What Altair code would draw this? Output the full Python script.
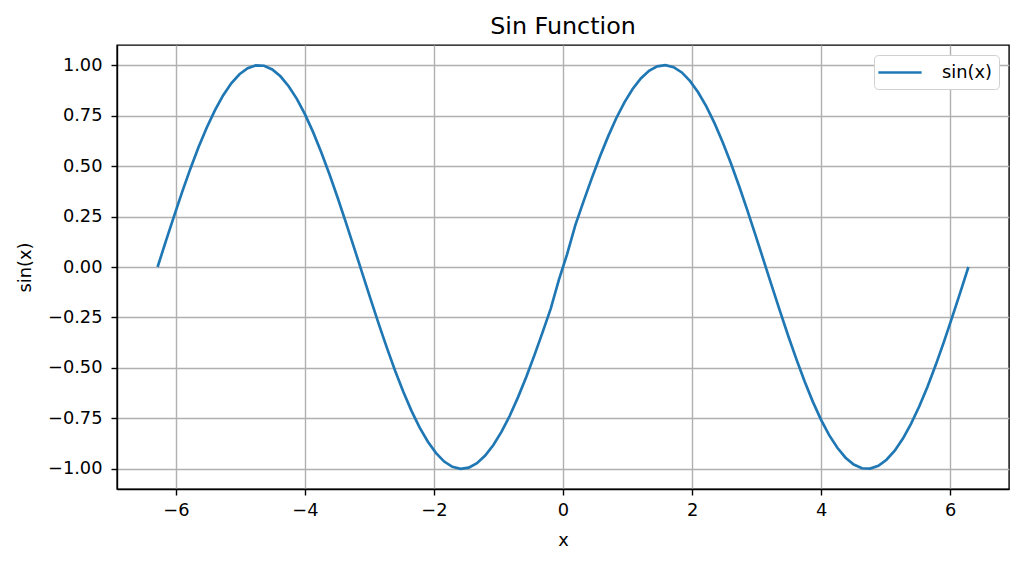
import altair as alt
import pandas as pd

x_neg = [-6.283, -6.156, -6.029, -5.902, -5.776, -5.649, -5.522, -5.395, -5.268, -5.141,
         -5.014, -4.887, -4.760, -4.633, -4.506, -4.379, -4.252, -4.125, -3.998, -3.871,
         -3.745, -3.618, -3.491, -3.364, -3.237, -3.110, -2.983, -2.856, -2.729, -2.602,
         -2.475, -2.348, -2.221, -2.094, -1.967, -1.841, -1.714, -1.587, -1.460, -1.333,
         -1.206, -1.079, -0.952, -0.825, -0.698, -0.571, -0.444, -0.317, -0.190, -0.063]
x_pos = [0.063, 0.190, 0.317, 0.444, 0.571, 0.698, 0.825, 0.952, 1.079, 1.206,
         1.333, 1.460, 1.587, 1.714, 1.841, 1.967, 2.094, 2.221, 2.348, 2.475,
         2.602, 2.729, 2.856, 2.983, 3.110, 3.237, 3.364, 3.491, 3.618, 3.745,
         3.871, 3.998, 4.125, 4.252, 4.379, 4.506, 4.633, 4.760, 4.887, 5.014,
         5.141, 5.268, 5.395, 5.522, 5.649, 5.776, 5.902, 6.029, 6.156, 6.283]
y_neg = [0.000, 0.127, 0.251, 0.372, 0.486, 0.593, 0.690, 0.776, 0.850, 0.910,
         0.955, 0.985, 0.999, 0.997, 0.979, 0.945, 0.896, 0.833, 0.756, 0.667,
         0.567, 0.458, 0.342, 0.220, 0.095, -0.032, -0.158, -0.282, -0.401, -0.514,
         -0.618, -0.713, -0.796, -0.866, -0.922, -0.964, -0.990, -1.000, -0.994, -0.972,
         -0.934, -0.882, -0.816, -0.737, -0.646, -0.546, -0.438, -0.324, -0.206, -0.063]
y_pos = [0.063, 0.206, 0.324, 0.438, 0.546, 0.646, 0.737, 0.816, 0.882, 0.934,
         0.972, 0.994, 1.000, 0.990, 0.964, 0.922, 0.866, 0.796, 0.713, 0.618,
         0.514, 0.401, 0.282, 0.158, 0.032, -0.095, -0.220, -0.342, -0.458, -0.567,
         -0.667, -0.756, -0.833, -0.896, -0.945, -0.979, -0.997, -0.999, -0.985, -0.955,
         -0.910, -0.850, -0.776, -0.690, -0.593, -0.486, -0.372, -0.251, -0.127, 0.000]
x_ticks = [-6, -4, -2, 0, 2, 4, 6]
y_ticks = [-1.0, -0.75, -0.5, -0.25, 0.0, 0.25, 0.5, 0.75, 1.0]
series_name = "sin(x)"

df = pd.DataFrame({
    "x": x_neg + x_pos,
    "y": y_neg + y_pos,
    "series": [series_name] * (len(x_neg) + len(x_pos)),
})

FONT = "DejaVu Sans"

chart = alt.Chart(df).mark_line(strokeWidth=2.67).encode(
    x=alt.X("x:Q", scale=alt.Scale(domain=[-6.912, 6.912], nice=False, zero=False),
            axis=alt.Axis(values=x_ticks, format="d", title="x")),
    y=alt.Y("y:Q", scale=alt.Scale(domain=[-1.1, 1.1], nice=False, zero=False),
            axis=alt.Axis(values=y_ticks, format=".2f", title="sin(x)")),
    color=alt.Color("series:N", scale=alt.Scale(range=["#1f77b4"]),
                    legend=alt.Legend(title=None, orient="top-right", offset=10,
                                      padding=7, strokeColor="#d0d0d0", fillColor="white",
                                      cornerRadius=4, symbolType="M-2.4,0H2.4",
                                      symbolStrokeWidth=2.67, symbolSize=324,
                                      symbolOffset=8.5,
                                      labelOffset=31.5, labelFontSize=17.8, labelFont=FONT,
                                      labelColor="black")),
).properties(
    width=892, height=444,
    title=alt.TitleParams("Sin Function", fontSize=23.8, font=FONT, fontWeight="normal",
                          color="black", offset=6),
    autosize=alt.AutoSizeParams(type="none"),
    padding={"left": 109, "top": 37, "right": 2, "bottom": 60},
).configure_axis(
    labelFont=FONT, labelFontSize=17.8, labelColor="black",
    titleFont=FONT, titleFontSize=17.8, titleFontWeight="normal", titleColor="black",
    domainColor="black", domainWidth=1.4,
    tickColor="black", tickWidth=1.4, tickSize=6,
    gridColor="#b0b0b0", gridWidth=1.4,
).configure_axisX(
    labelPadding=6, titlePadding=13,
).configure_axisY(
    labelPadding=9, titlePadding=13,
).configure_view(
    stroke="black", strokeWidth=1.4,
)

chart.save("out.html", embed_options={"renderer": "svg", "actions": False})
